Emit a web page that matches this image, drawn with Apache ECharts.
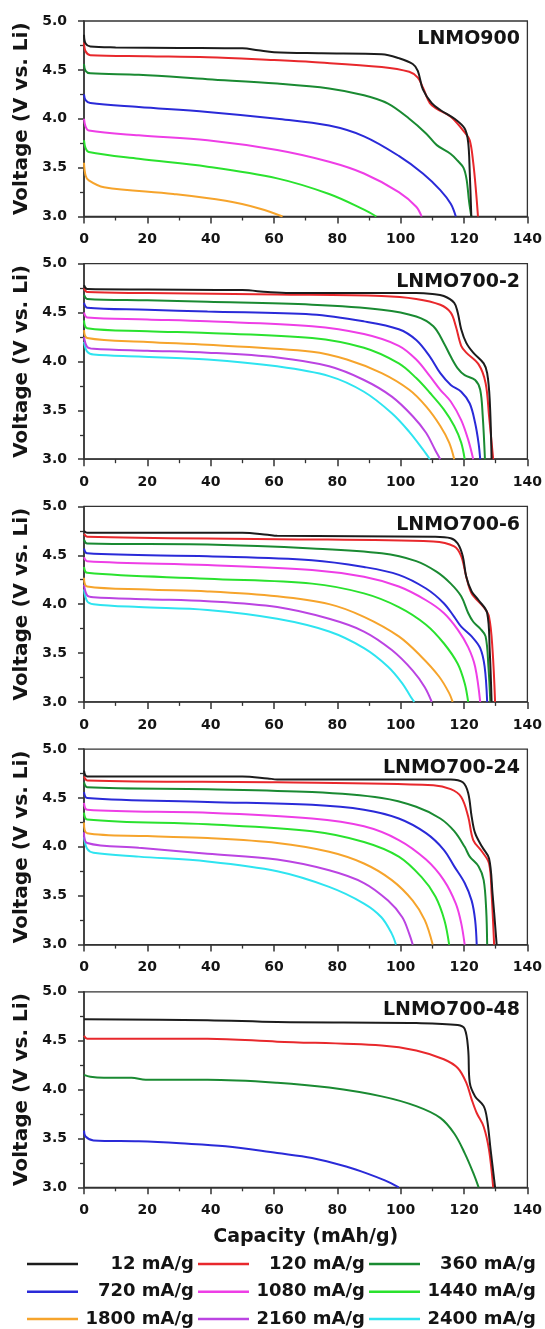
<!DOCTYPE html>
<html>
<head>
<meta charset="utf-8">
<title>LNMO discharge curves</title>
<script src="https://cdn.jsdelivr.net/npm/echarts@6/dist/echarts.min.js"></script>
<style>
  html, body { margin: 0; padding: 0; background: #ffffff; }
  #chart { width: 545px; height: 1329px; }
</style>
</head>
<body>
<div id="chart"></div>
<script>
// Discharge current densities and their line colours
const rates = ['12 mA/g', '120 mA/g', '360 mA/g', '720 mA/g', '1080 mA/g', '1440 mA/g', '1800 mA/g', '2160 mA/g', '2400 mA/g'];
const rateColors = ['#1c1c1c', '#e8282c', '#1a8a32', '#2a2ad8', '#ee3ee6', '#2ae22e', '#f6a42c', '#bb44e2', '#2ee4f0'];

// Axis ticks
const capacityTicks = [0, 20, 40, 60, 80, 100, 120, 140];
const voltageTicks = [3.0, 3.5, 4.0, 4.5, 5.0];

// Sample names, top to bottom
const samples = ['LNMO900', 'LNMO700-2', 'LNMO700-6', 'LNMO700-24', 'LNMO700-48'];

// ---- LNMO900: [capacity mAh/g, voltage V] ----
const c900_12 = [[0,4.86],[0.5,4.77],[2,4.74],[10,4.73],[30,4.725],[50,4.72],[55,4.70],[60,4.68],[75,4.67],[94,4.66],[99.4,4.62],[103.8,4.56],[105.4,4.49],[107,4.30],[109.8,4.16],[112.5,4.09],[117,4.0],[120.2,3.90],[121.3,3.76],[121.8,3.45],[122.3,3.0]];
const c900_120 = [[0,4.78],[0.5,4.69],[2,4.65],[20,4.64],[39,4.63],[60,4.60],[72,4.58],[94,4.53],[102.7,4.48],[105.4,4.42],[107,4.32],[109.2,4.16],[111.4,4.10],[115.8,4.02],[120.2,3.86],[121.8,3.78],[122.9,3.55],[123.8,3.25],[124.4,3.0]];
const c900_360 = [[0,4.56],[0.5,4.49],[2,4.465],[17.3,4.45],[39,4.405],[61,4.36],[77.4,4.31],[88.4,4.24],[96,4.155],[102.7,4.0],[108,3.85],[111.4,3.73],[115.8,3.64],[118,3.57],[119.8,3.50],[120.8,3.38],[121.6,3.15],[122.3,3.0]];
const c900_720 = [[0,4.25],[0.5,4.19],[2,4.16],[17.3,4.12],[39,4.07],[61,4.0],[77.4,3.93],[88.4,3.82],[99.4,3.62],[107,3.44],[112.5,3.27],[115.8,3.13],[117.4,3.0]];
const c900_1080 = [[0,4.0],[0.5,3.92],[1.5,3.88],[17.3,3.83],[39,3.78],[61,3.68],[77.4,3.56],[88.4,3.44],[99.4,3.25],[104.9,3.10],[106.6,3.0]];
const c900_1440 = [[0,3.78],[0.5,3.70],[1.5,3.66],[17.3,3.59],[39,3.51],[61,3.39],[77.4,3.23],[88.4,3.07],[92.3,3.0]];
const c900_1800 = [[0,3.55],[0.5,3.42],[1.5,3.37],[6.3,3.30],[28.2,3.23],[44.7,3.16],[55.6,3.08],[62.7,3.0]];

// ---- LNMO700-2 ----
const c702_12 = [[0,4.78],[1,4.74],[20,4.735],[50,4.73],[58,4.71],[65,4.70],[104.9,4.70],[110,4.69],[113.6,4.67],[116.9,4.60],[118,4.50],[119.1,4.33],[120.7,4.19],[122.9,4.09],[126.2,3.98],[127.3,3.88],[128.1,3.61],[128.7,3.0]];
const c702_120 = [[0,4.75],[1,4.71],[20,4.70],[61,4.685],[94,4.67],[104.9,4.64],[112.5,4.58],[115.8,4.50],[117.4,4.36],[119.1,4.16],[120.7,4.09],[124.6,3.97],[126.8,3.78],[127.9,3.44],[129.2,3.0]];
const c702_360 = [[0,4.68],[1,4.64],[20,4.625],[39,4.61],[72,4.58],[94,4.53],[104.9,4.46],[110.3,4.36],[113.6,4.19],[115.8,4.05],[118,3.93],[120.2,3.86],[123.5,3.81],[125.1,3.71],[125.9,3.44],[126.6,3.0]];
const c702_720 = [[0,4.60],[1,4.55],[20,4.53],[39,4.51],[72,4.48],[88.4,4.41],[99.4,4.33],[104.9,4.22],[109.2,4.05],[112.5,3.88],[115.8,3.76],[119.1,3.69],[121.8,3.57],[123.5,3.37],[124.6,3.16],[125.1,3.0]];
const c702_1080 = [[0,4.50],[1,4.45],[20,4.43],[39,4.41],[72,4.36],[88.4,4.28],[99.4,4.16],[104.9,4.02],[109.2,3.85],[112.5,3.71],[115.8,3.59],[119.1,3.40],[121.3,3.20],[122.9,3.0]];
const c702_1440 = [[0,4.42],[1,4.34],[20,4.31],[39,4.29],[72,4.24],[88.4,4.14],[99.4,3.98],[104.9,3.83],[109.2,3.68],[113.6,3.51],[116.9,3.34],[119.1,3.17],[120.2,3.0]];
const c702_1800 = [[0,4.32],[1,4.24],[20,4.20],[39,4.17],[72,4.10],[83,4.02],[94,3.88],[102.7,3.71],[108,3.54],[112.5,3.34],[115.3,3.17],[116.9,3.0]];
const c702_2160 = [[0,4.25],[1,4.15],[3,4.13],[20,4.11],[39,4.09],[61,4.04],[77.4,3.95],[88.4,3.81],[97.2,3.64],[103.8,3.44],[108,3.27],[110.8,3.10],[112.5,3.0]];
const c702_2400 = [[0,4.20],[1,4.10],[3,4.07],[17.3,4.05],[39,4.02],[61,3.95],[77.4,3.85],[88.4,3.69],[97.2,3.47],[102.7,3.28],[107,3.10],[109.2,3.0]];

// ---- LNMO700-6 ----
const c706_12 = [[0,4.75],[1,4.73],[50,4.73],[58,4.71],[61,4.70],[110.3,4.69],[115.8,4.675],[118,4.62],[119.6,4.49],[120.7,4.28],[122.4,4.13],[124.6,4.04],[127.3,3.91],[128.1,3.53],[128.7,3.0]];
const c706_120 = [[0,4.72],[1,4.69],[61,4.665],[110.3,4.64],[116.9,4.59],[119.1,4.49],[120.7,4.28],[122.4,4.11],[126.2,3.97],[127.9,3.87],[129,3.53],[129.8,3.0]];
const c706_360 = [[0,4.66],[1,4.62],[39,4.61],[72,4.57],[94,4.52],[104.9,4.44],[111.4,4.33],[115.8,4.21],[119.1,4.08],[121.3,3.91],[122.9,3.82],[125.1,3.75],[126.8,3.67],[127.7,3.36],[128.3,3.0]];
const c706_720 = [[0,4.57],[1,4.52],[39,4.49],[72,4.45],[88.4,4.38],[99.4,4.30],[108,4.16],[113.6,4.01],[116.9,3.87],[119.1,3.77],[122.4,3.67],[125.1,3.55],[126.5,3.36],[127.3,3.0]];
const c706_1080 = [[0,4.48],[1,4.44],[39,4.40],[72,4.35],[88.4,4.28],[99.4,4.18],[108,4.04],[113.6,3.91],[118,3.74],[121.3,3.56],[123.5,3.36],[125.1,3.0]];
const c706_1440 = [[0,4.38],[1,4.32],[39,4.26],[72,4.21],[88.4,4.11],[99.4,3.97],[108,3.79],[113.6,3.60],[118,3.39],[120.2,3.19],[121.3,3.0]];
const c706_1800 = [[0,4.27],[1,4.18],[20,4.15],[39,4.13],[61,4.08],[77.4,4.00],[88.4,3.87],[99.4,3.67],[106.6,3.46],[112.1,3.26],[115.3,3.09],[116.4,3.0]];
const c706_2160 = [[0,4.20],[1,4.09],[3,4.07],[20,4.05],[39,4.03],[61,3.97],[77.4,3.85],[88.4,3.72],[97.2,3.53],[103.8,3.32],[107.6,3.15],[109.8,3.0]];
const c706_2400 = [[0,4.15],[1,4.03],[3,4.0],[17.3,3.97],[39,3.94],[61,3.85],[77.4,3.72],[88.4,3.55],[96,3.36],[100.5,3.19],[103.2,3.05],[104.3,3.0]];

// ---- LNMO700-24 ----
const c724_12 = [[0,4.78],[1,4.72],[50,4.72],[58,4.70],[61,4.69],[115.8,4.69],[119.6,4.66],[121.3,4.55],[122.4,4.31],[123.5,4.14],[125.7,4.0],[127.9,3.88],[129,3.52],[130.3,3.0]];
const c724_120 = [[0,4.72],[1,4.68],[61,4.66],[110.3,4.63],[115.8,4.59],[119.1,4.51],[121.3,4.31],[122.9,4.07],[125.7,3.95],[127.9,3.83],[128.7,3.52],[129.5,3.0]];
const c724_360 = [[0,4.66],[1,4.61],[39,4.59],[72,4.56],[94,4.50],[104.9,4.41],[112.5,4.29],[116.9,4.16],[120.2,4.0],[121.8,3.90],[124.6,3.80],[126.2,3.66],[127,3.35],[127.3,3.0]];
const c724_720 = [[0,4.56],[1,4.50],[39,4.46],[72,4.43],[88.4,4.38],[99.4,4.29],[108,4.14],[113.6,3.97],[116.9,3.80],[120.2,3.63],[122.4,3.45],[123.5,3.25],[124,3.0]];
const c724_1080 = [[0,4.45],[1,4.38],[39,4.35],[72,4.29],[88.4,4.21],[99.4,4.07],[108,3.87],[113.6,3.66],[117.4,3.42],[119.1,3.22],[120.2,3.0]];
const c724_1440 = [[0,4.35],[1,4.28],[39,4.23],[72,4.16],[88.4,4.05],[99.4,3.90],[106.6,3.69],[111,3.49],[113.8,3.25],[115.3,3.0]];
const c724_1800 = [[0,4.25],[1,4.14],[20,4.11],[39,4.09],[61,4.04],[77.4,3.95],[88.4,3.83],[97.2,3.66],[103.8,3.45],[107.6,3.25],[110.1,3.0]];
const c724_2160 = [[0,4.15],[1,4.04],[17.3,3.99],[39,3.93],[61,3.87],[77.4,3.76],[88.4,3.63],[96,3.45],[100.5,3.28],[102.7,3.11],[103.8,3.0]];
const c724_2400 = [[0,4.10],[1,3.98],[3,3.94],[17.3,3.90],[39,3.85],[61,3.75],[77.4,3.59],[88.4,3.42],[93.9,3.28],[97.2,3.11],[98.5,3.0]];

// ---- LNMO700-48 ----
const c748_12 = [[0,4.72],[39,4.71],[61,4.69],[104.9,4.68],[118,4.66],[120.2,4.62],[121.3,4.41],[121.8,4.07],[123.5,3.93],[126.2,3.83],[127.3,3.69],[128.4,3.38],[129.8,3.0]];
const c748_120 = [[0,4.55],[1,4.52],[39,4.52],[61,4.49],[94,4.45],[104.9,4.40],[113.6,4.31],[118,4.22],[120.7,4.07],[122.4,3.90],[124,3.76],[126.2,3.62],[127.9,3.38],[129.2,3.0]];
const c748_360 = [[0,4.15],[2,4.13],[6.3,4.12],[15,4.12],[19.5,4.10],[39,4.10],[61,4.07],[77.4,4.02],[94,3.93],[104.9,3.83],[112.5,3.71],[116.9,3.55],[120.2,3.35],[123,3.14],[124.6,3.0]];
const c748_720 = [[0,3.58],[0.5,3.52],[3,3.48],[17.3,3.47],[30.4,3.45],[44.7,3.42],[61,3.35],[72,3.30],[83,3.21],[89.5,3.14],[95,3.07],[99.4,3.0]];

// Curves of each panel, in the order of the rate list
const panelCurves = [
  [c900_12, c900_120, c900_360, c900_720, c900_1080, c900_1440, c900_1800],
  [c702_12, c702_120, c702_360, c702_720, c702_1080, c702_1440, c702_1800, c702_2160, c702_2400],
  [c706_12, c706_120, c706_360, c706_720, c706_1080, c706_1440, c706_1800, c706_2160, c706_2400],
  [c724_12, c724_120, c724_360, c724_720, c724_1080, c724_1440, c724_1800, c724_2160, c724_2400],
  [c748_12, c748_120, c748_360, c748_720]
];

// Layout of the stacked panels
const FONT = 'DejaVu Sans';
const INK = '#141414';
const AXIS = '#333333';
const plotLeft = 84;
const plotWidth = 443.7;
const plotHeight = 195.5;
const firstTop = 21;
const panelStep = 242.7;

const grids = [], xAxes = [], yAxes = [], titles = [], series = [];

samples.forEach((name, i) => {
  const top = firstTop + i * panelStep;
  const last = i === samples.length - 1;
  grids.push({
    left: plotLeft, top: top, width: plotWidth, height: plotHeight,
    show: true, borderColor: AXIS, borderWidth: 1.3, backgroundColor: 'transparent'
  });
  xAxes.push({
    type: 'value', gridIndex: i,
    min: capacityTicks[0], max: capacityTicks[capacityTicks.length - 1],
    interval: capacityTicks[1] - capacityTicks[0],
    axisLine: { show: true, onZero: false, lineStyle: { color: AXIS, width: 1.5 } },
    axisTick: { show: true, length: 7, lineStyle: { color: AXIS, width: 1.5 } },
    minorTick: { show: true, splitNumber: 2, length: 4, lineStyle: { color: AXIS, width: 1.3 } },
    splitLine: { show: false },
    axisLabel: { margin: 16, color: INK, fontFamily: FONT, fontWeight: 'bold', fontSize: 14, showMinLabel: true, showMaxLabel: true },
    name: last ? 'Capacity (mAh/g)' : '',
    nameLocation: 'middle', nameGap: 40,
    nameTextStyle: { color: INK, fontFamily: FONT, fontWeight: 'bold', fontSize: 19 }
  });
  yAxes.push({
    type: 'value', gridIndex: i,
    min: voltageTicks[0], max: voltageTicks[voltageTicks.length - 1],
    interval: voltageTicks[1] - voltageTicks[0],
    axisLine: { show: true, onZero: false, lineStyle: { color: AXIS, width: 1.5 } },
    axisTick: { show: true, length: 6, lineStyle: { color: AXIS, width: 1.5 } },
    minorTick: { show: true, splitNumber: 2, length: 4, lineStyle: { color: AXIS, width: 1.3 } },
    splitLine: { show: false },
    axisLabel: { margin: 17, color: INK, fontFamily: FONT, fontWeight: 'bold', fontSize: 14, formatter: v => v.toFixed(1) },
    name: 'Voltage (V vs. Li)',
    nameLocation: 'middle', nameGap: 48,
    nameTextStyle: { color: INK, fontFamily: FONT, fontWeight: 'bold', fontSize: 20 }
  });
  titles.push({
    text: name, right: 25, top: top + 8.5, padding: 0,
    textStyle: { color: INK, fontFamily: FONT, fontWeight: 'bold', fontSize: 19, lineHeight: 20 }
  });
  panelCurves[i].forEach((curve, k) => {
    series.push({
      type: 'line', name: rates[k], xAxisIndex: i, yAxisIndex: i,
      data: curve, symbol: 'none', showSymbol: false,
      smooth: 0.35,
      lineStyle: { color: rateColors[k], width: 2 },
      itemStyle: { color: rateColors[k] },
      z: 10 - k
    });
  });
});

// Legend: three rows of three entries, text right-aligned in each column
const legendRowCenters = [1264, 1291.7, 1319];
const legends = legendRowCenters.map((cy, r) => ({
  data: rates.slice(r * 3, r * 3 + 3),
  left: 27, top: cy - 9, padding: 0,
  orient: 'horizontal',
  icon: 'rect', itemWidth: 51, itemHeight: 2.5, itemGap: 4,
  selectedMode: false,
  formatter: n => '{r|' + n + '}',
  textStyle: {
    rich: {
      r: { width: 111, align: 'right', color: INK, fontFamily: FONT, fontWeight: 'bold', fontSize: 18, lineHeight: 18 }
    }
  }
}));

const chart = echarts.init(document.getElementById('chart'), null, { renderer: 'canvas' });
chart.setOption({
  animation: false,
  backgroundColor: '#ffffff',
  title: titles,
  grid: grids,
  xAxis: xAxes,
  yAxis: yAxes,
  legend: legends,
  series: series
});
</script>
</body>
</html>
